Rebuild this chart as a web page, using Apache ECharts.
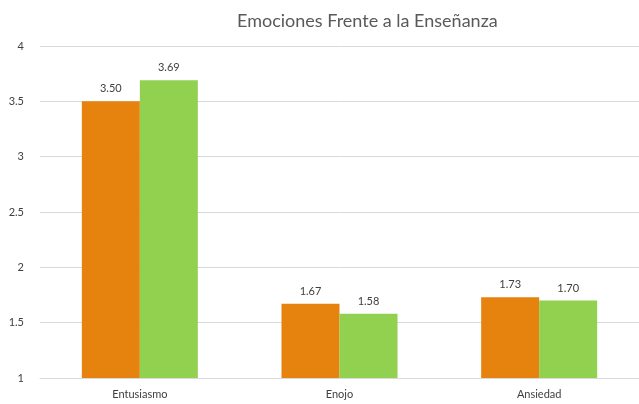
<!DOCTYPE html>
<html><head><meta charset="utf-8">
<script src="https://cdn.jsdelivr.net/npm/echarts@6/dist/echarts.min.js"></script>
<style>html,body{margin:0;padding:0;background:#fff}#c{width:639px;height:404px}</style>
</head><body><div id="c"></div>
<script>
const categories = ["Entusiasmo", "Enojo", "Ansiedad"];
const seriesA = [3.50, 1.67, 1.73];
const seriesB = [3.69, 1.58, 1.70];
const yTicks = [1, 1.5, 2, 2.5, 3, 3.5, 4];

const chart = echarts.init(document.getElementById('c'), null, {renderer: 'canvas'});
const font = 'Lato, "Open Sans", sans-serif';
const lbl = {show: true, position: 'top', distance: 7, color: '#404040', fontSize: 11, fontFamily: font,
  formatter: p => p.value.toFixed(2)};
chart.setOption({
  animation: false,
  title: {text: 'Emociones Frente a la Enseñanza', left: 232, top: 7,
    textStyle: {fontSize: 18, fontWeight: 'normal', color: '#595959', fontFamily: font}},
  grid: {left: 40, right: 0, top: 46, bottom: 26},
  xAxis: {type: 'category', data: categories,
    axisLine: {lineStyle: {color: '#d9d9d9'}}, axisTick: {show: false},
    axisLabel: {color: '#404040', fontSize: 11, fontFamily: font, margin: 11}},
  yAxis: {type: 'value', min: 1, max: 4, interval: 0.5,
    axisLine: {show: false}, axisTick: {show: false},
    splitLine: {lineStyle: {color: '#d9d9d9'}},
    axisLabel: {color: '#404040', fontSize: 11, fontFamily: font, margin: 16,
      formatter: v => yTicks.includes(v) ? String(v) : ''}},
  series: [
    {type: 'bar', data: seriesA, barWidth: 58, barGap: '0%', itemStyle: {color: '#E6820E'}, label: lbl},
    {type: 'bar', data: seriesB, barWidth: 58, barGap: '0%', itemStyle: {color: '#92D050'}, label: lbl}
  ]
});
</script></body></html>
